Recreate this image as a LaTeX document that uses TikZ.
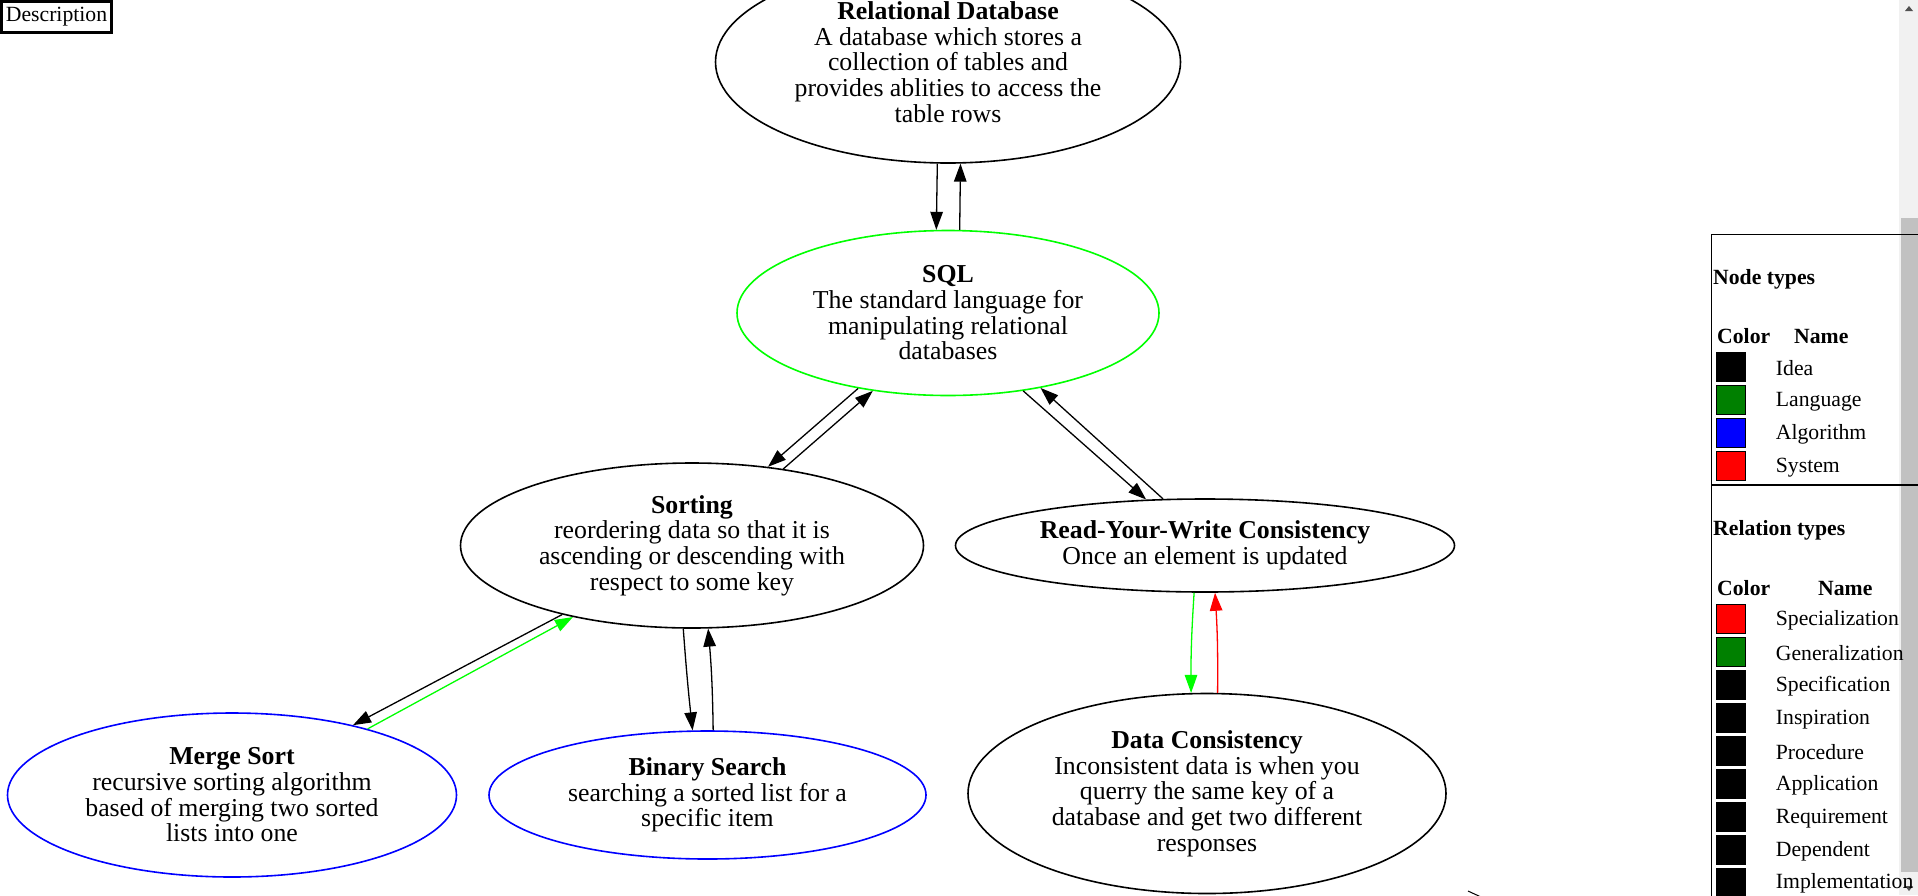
\documentclass[tikz,border=0pt]{standalone}
\usepackage{fontspec}
\setmainfont{Liberation Serif}
\usetikzlibrary{shapes.geometric,arrows.meta}
\definecolor{brightgreen}{RGB}{0,255,0}
\definecolor{webgreen}{RGB}{0,128,0}
\definecolor{trackgray}{RGB}{241,241,241}
\definecolor{thumbgray}{RGB}{193,193,193}
\definecolor{btngray}{RGB}{80,80,80}
\newcommand{\nodefont}{\fontsize{25.8}{25.7}\selectfont}
\newcommand{\legfont}{\fontsize{21.7}{24}\selectfont}
\begin{document}
\begin{tikzpicture}[x=1pt,y=-1pt,>={Triangle[length=18pt,width=12.5pt]},
	concept/.style={ellipse,draw,line width=1.6pt,inner sep=0pt,align=center,font=\nodefont},
	rel/.style={->,line width=1.3pt},
	swatch/.style={draw=black,line width=0.8pt,minimum width=29pt,minimum height=29pt,inner sep=0pt},
	legtext/.style={anchor=west,inner sep=0pt,yshift=-2.5pt,font=\legfont}]
				\useasboundingbox (0,0) rectangle (1918,895);
				% nodes
				\node[concept,minimum width=465pt,minimum height=202pt] (rd) at (948,62) {\textbf{Relational Database}\\A database which stores a\\collection of tables and\\provides ablities to access the\\table rows};
				\node[concept,draw=brightgreen,minimum width=422pt,minimum height=165pt] (sql) at (948,313) {\textbf{SQL}\\The standard language for\\manipulating relational\\databases};
				\node[concept,minimum width=463pt,minimum height=165pt] (sort) at (692,545.5) {\textbf{Sorting}\\reordering data so that it is\\ascending or descending with\\respect to some key};
				\node[concept,minimum width=499pt,minimum height=93pt] (ryw) at (1205,545.5) {\textbf{Read-Your-Write Consistency}\\Once an element is updated};
				\node[concept,minimum width=478pt,minimum height=200pt] (dc) at (1207,793.5) {\textbf{Data Consistency}\\Inconsistent data is when you\\querry the same key of a\\database and get two different\\responses};
				\node[concept,draw=blue,minimum width=449pt,minimum height=164pt] (merge) at (232,795) {\textbf{Merge Sort}\\recursive sorting algorithm\\based of merging two sorted\\lists into one};
				\node[concept,draw=blue,minimum width=437pt,minimum height=128pt] (bin) at (707.5,795) {\textbf{Binary Search}\\searching a sorted list for a\\specific item};
				
				% relations
				\draw[rel] (rd.-96) -- (sql.98);
				\draw[rel] (sql.82) -- (rd.-83);
				\draw[rel] (sql.-140.5) -- (sort.46);
				\draw[rel] (sort.40) -- (sql.-134);
				\draw[rel] (sql.-46) -- (ryw.142);
				\draw[rel] (ryw.132) -- (sql.-39);
				\draw[rel,brightgreen] (ryw.-103) to[bend right=2] (dc.99.6);
				\draw[rel,red] (dc.84) to[bend right=2] (ryw.-78);
				\draw[rel] (sort.-152.7) -- (merge.30.5);
				\draw[rel,brightgreen] (merge.26.4) -- (sort.-149.2);
				\draw[rel] (sort.-96.5) to[bend right=1] (bin.103.7);
				\draw[rel] (bin.85) to[bend right=2] (sort.-79);
				\draw[line width=1pt] (1468,891) -- (1481,897);
				
				% description box
				\node[draw,line width=3pt,minimum width=110pt,minimum height=31pt,inner sep=0pt,font=\legfont] (desc) at (56.5,17) {Description};
				
				% scrollbar
				\fill[trackgray] (1899,0) rectangle (1918,895);
				\fill[thumbgray] (1901,218) rectangle (1918,871.5);
				\fill[btngray] (1905,11) -- (1913,11) -- (1909,6) -- cycle;
				\fill[btngray] (1905,886) -- (1913,886) -- (1909,891) -- cycle;
				
				% legend
				\draw[line width=1.3pt] (1918,234.5) -- (1711.5,234.5) -- (1711.5,897);
				\draw[line width=1.3pt] (1711.5,485) -- (1918,485);
				\node[legtext] (nodetypes) at (1713,276.7) {\textbf{Node types}};
				\node[legtext] (ncolor) at (1717,334) {\textbf{Color}};
				\node[legtext] (nname) at (1794,334) {\textbf{Name}};
				\node[swatch,fill=black] (s1) at (1730.5,367) {}; \node[legtext] at (1775.7,366) {Idea};
				\node[swatch,fill=webgreen] (s2) at (1730.5,400) {}; \node[legtext] at (1775.7,399) {Language};
				\node[swatch,fill=blue] (s3) at (1730.5,433) {}; \node[legtext] at (1775.7,432) {Algorithm};
				\node[swatch,fill=red] (s4) at (1730.5,466) {}; \node[legtext] at (1775.7,465) {System};
				\node[legtext] (reltypes) at (1713,528) {\textbf{Relation types}};
				\node[legtext] (rcolor) at (1717,586) {\textbf{Color}};
				\node[legtext] (rname) at (1818,586) {\textbf{Name}};
				\node[swatch,fill=red] (r1) at (1730.5,618.5) {}; \node[legtext] at (1775.7,618) {Specialization};
				\node[swatch,fill=webgreen] (r2) at (1730.5,651.5) {}; \node[legtext] at (1775.7,651) {Generalization};
				\node[swatch,fill=black] (r3) at (1730.5,684.5) {}; \node[legtext] at (1775.7,684) {Specification};
				\node[swatch,fill=black] (r4) at (1730.5,717.5) {}; \node[legtext] at (1775.7,717) {Inspiration};
				\node[swatch,fill=black] (r5) at (1730.5,750.5) {}; \node[legtext] at (1775.7,750) {Procedure};
				\node[swatch,fill=black] (r6) at (1730.5,783.5) {}; \node[legtext] at (1775.7,783) {Application};
				\node[swatch,fill=black] (r7) at (1730.5,816.5) {}; \node[legtext] at (1775.7,816) {Requirement};
				\node[swatch,fill=black] (r8) at (1730.5,849.5) {}; \node[legtext] at (1775.7,849) {Dependent};
				\node[swatch,fill=black] (r9) at (1730.5,882.5) {}; \node[legtext] at (1775.7,881) {Implementation};
				
			\end{tikzpicture}
\end{document}
